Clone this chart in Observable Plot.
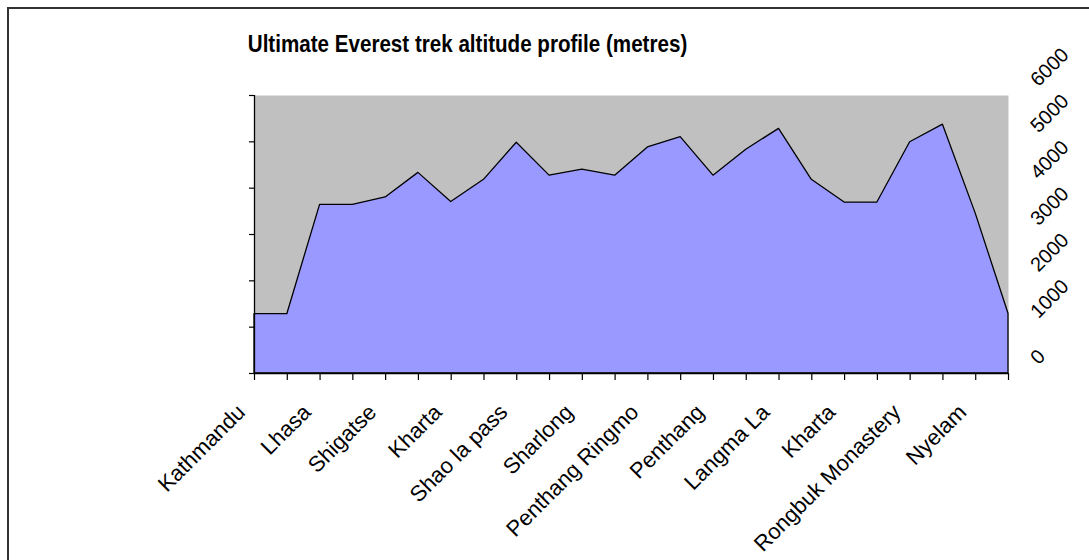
<!DOCTYPE html>
<html>
<head>
<meta charset="utf-8">
<script src="https://cdn.jsdelivr.net/npm/d3@7"></script>
<script src="https://cdn.jsdelivr.net/npm/@observablehq/plot@0.6"></script>
<style>
  html, body { margin: 0; padding: 0; background: #fff; overflow: hidden; width: 1089px; height: 560px; }
  #border { position: absolute; left: 7px; top: 7px; width: 1200px; height: 700px; border: 2px solid #333; box-sizing: border-box; }
  #title { position: absolute; left: 0; top: 33px; width: 935px; text-align: center; font: bold 20.6px "Liberation Sans", Arial, sans-serif; line-height: 24px; color: #000; transform: scaleY(1.15); transform-origin: 50% 80%; }
  #chart { position: absolute; left: 0; top: 0; }
</style>
</head>
<body>
<div id="border"></div>
<div id="chart"></div>
<div id="title">Ultimate Everest trek altitude profile (metres)</div>
<script>
// altitude at each of the 24 stops (metres)
const altitudes = [1280, 1280, 3640, 3640, 3800, 4330, 3700, 4180, 4980, 4270, 4400, 4270,
                   4880, 5100, 4270, 4830, 5280, 4180, 3690, 3690, 4990, 5370, 3450, 1290];
// category labels shown on the axis (every second stop)
const stopLabels = ["Kathmandu", "Lhasa", "Shigatse", "Kharta", "Shao la pass", "Sharlong",
                    "Penthang Ringmo", "Penthang", "Langma La", "Kharta", "Rongbuk Monastery", "Nyelam"];
const labelStep = 2;
const yTicks = [0, 1000, 2000, 3000, 4000, 5000, 6000];

const data = altitudes.map((v, i) => ({i, alt: v}));
const labelData = stopLabels.map((name, k) => ({i: k * labelStep, name}));
const font = '"Liberation Sans", Arial, sans-serif';

const chart = Plot.plot({
  width: 1089,
  height: 560,
  marginLeft: 254,
  marginRight: 81,
  marginTop: 95,
  marginBottom: 187,
  style: {fontFamily: font, background: "transparent", overflow: "visible"},
  x: {domain: [0, altitudes.length - 1], axis: null},
  y: {domain: [0, 6000], axis: null},
  marks: [
    Plot.frame({fill: "#C0C0C0", stroke: null}),
    Plot.areaY(data, {x: "i", y: "alt", fill: "#9999FF", stroke: "#000", strokeWidth: 1.3, curve: "linear"}),
    Plot.axisY({ticks: yTicks, tickSize: 5, tickFormat: () => "", label: null, stroke: "#000", strokeWidth: 1.2}),
    Plot.axisX({ticks: d3.range(altitudes.length), tickSize: 7, tickFormat: () => "", label: null, stroke: "#000", strokeWidth: 1.2}),
    Plot.ruleX([0], {stroke: "#000", strokeWidth: 1.3}),
    Plot.ruleY([0], {stroke: "#000", strokeWidth: 1.3}),
    Plot.text(labelData, {x: "i", text: "name", frameAnchor: "bottom", rotate: -45, textAnchor: "end",
      lineAnchor: "bottom", dx: -8, dy: 40, fontSize: 22, fill: "#000"}),
    Plot.text(yTicks, {y: d => d, text: d => String(d), frameAnchor: "right", rotate: -45, textAnchor: "start",
      lineAnchor: "bottom", dx: 30, dy: -8, fontSize: 20, fill: "#000"})
  ]
});
document.getElementById("chart").appendChild(chart);
</script>
</body>
</html>
